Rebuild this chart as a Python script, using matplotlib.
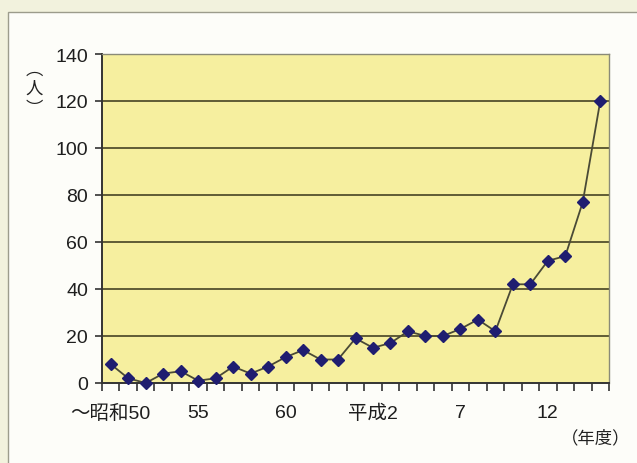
import matplotlib
matplotlib.use("Agg")
import matplotlib.pyplot as plt
from matplotlib.patches import Rectangle
import numpy as np

plt.rcParams['font.family'] = ['Liberation Sans', 'Noto Sans CJK JP', 'DejaVu Sans']

# data (persons per fiscal year, S50 .. H15)
years = ["～昭和50", "51", "52", "53", "54", "55", "56", "57", "58", "59",
         "60", "61", "62", "63", "平成1", "平成2", "3", "4", "5", "6",
         "7", "8", "9", "10", "11", "12", "13", "14", "15"]
persons = [8, 2, 0, 4, 5, 1, 2, 7, 4, 7,
           11, 14, 10, 10, 19, 15, 17, 22, 20, 20,
           23, 27, 22, 42, 42, 52, 54, 77, 120]
label_idx = [0, 5, 10, 15, 20, 25]
yticks = [0, 20, 40, 60, 80, 100, 120, 140]

W, H = 637, 464
fig = plt.figure(figsize=(W / 100, H / 100), dpi=100)
fig.patch.set_facecolor("#f2f2dd")

# white card with thin frame
card = Rectangle((8 / W, -0.05), 1.1, 1 - 13 / H + 0.05, transform=fig.transFigure,
                 facecolor="#fdfdf9", edgecolor="#9c9c8c", linewidth=1.0, zorder=-5)
fig.patches.append(card)

ax = fig.add_axes([102 / W, 1 - 384 / H, (609 - 102) / W, (384 - 55) / H])
ax.set_zorder(2)
ax.set_facecolor("#f6ef9f")

x = np.arange(len(persons))
ax.plot(x, persons, color="#4a4a36", linewidth=1.3, zorder=3,
        marker="D", markersize=6.5, markerfacecolor="#1f1d70",
        markeredgecolor="#1f1d70", clip_on=False)

ax.set_xlim(-0.5, len(persons) - 0.5)
ax.set_ylim(0, 140)
ax.set_yticks(yticks)
ax.set_yticklabels([str(v) for v in yticks], fontsize=14, color="#1e1e1e")
for v in yticks[1:-1]:
    ax.axhline(v, color="#5f5b36", linewidth=1.4, zorder=1)

ax.set_xticks(label_idx)
ax.set_xticklabels([years[i] for i in label_idx], fontsize=14, color="#1e1e1e")
ax.set_xticks(np.arange(-0.5, len(persons), 1.0), minor=True)
ax.tick_params(axis="x", which="major", length=0, pad=15)
ax.tick_params(axis="x", which="minor", length=6, width=1.2, color="#333333", direction="out")
ax.tick_params(axis="y", length=5, width=1.2, color="#333333", pad=5)

for s in ["left", "bottom"]:
    ax.spines[s].set_color("#333333")
    ax.spines[s].set_linewidth(1.4)
for s in ["top", "right"]:
    ax.spines[s].set_color("#8a8a78")
    ax.spines[s].set_linewidth(1.0)

# vertical unit label (vertical-form brackets around 人)
cjk = ["Noto Sans CJK JP", "DejaVu Sans"]
for ch, yy in [("︵", 70), ("人", 89), ("︶", 109)]:
    fig.text(34 / W, 1 - yy / H, ch, fontsize=12.5, ha="center", va="center",
             color="#222222", family=cjk)

fig.text(596 / W, 1 - 438 / H, "（年度）", fontsize=12.5, ha="center", va="center",
         color="#222222", family=cjk)

fig.savefig("out.png", dpi=100, facecolor=fig.get_facecolor())
